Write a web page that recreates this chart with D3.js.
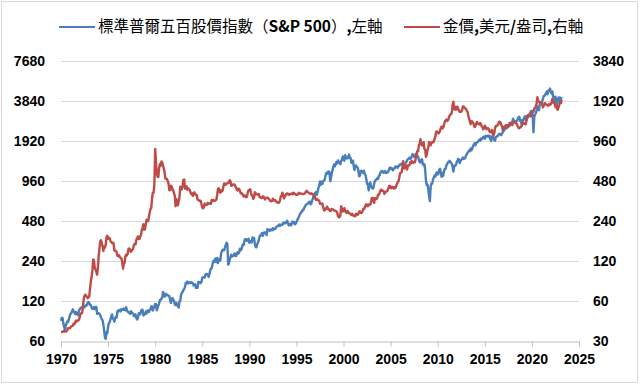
<!DOCTYPE html>
<html><head><meta charset="utf-8">
<script src="https://cdn.jsdelivr.net/npm/d3@7"></script>
<style>html,body{margin:0;padding:0;background:#fff;}svg{display:block;}</style>
</head><body>
<svg id="c" width="640" height="386"></svg>
<script>
// Monthly data starting Jan 1970
const startYear = 1970;
const spx = [
85.0,89.5,89.6,81.5,76.6,72.7,78.0,81.5,84.3,83.3,87.2,92.2,
95.9,97.0,100.3,103.9,99.6,99.7,95.6,99.0,98.3,94.2,93.9,102.1,
103.9,106.6,107.2,107.7,109.5,107.1,107.4,111.1,110.6,111.6,116.7,118.1,
116.0,111.7,111.5,106.9,104.9,104.3,108.2,104.3,108.4,108.3,96.0,97.6,
96.6,96.2,94.0,90.3,87.3,86.0,79.3,72.2,63.5,62.3,70.0,68.6,
77.0,81.6,83.4,87.3,91.2,95.2,88.8,86.9,83.9,89.0,91.2,90.2,
100.9,99.7,102.8,101.6,100.2,104.3,103.4,102.9,105.2,102.9,102.1,107.5,
102.0,99.8,98.4,98.4,96.1,100.5,98.9,96.8,96.5,92.3,94.8,95.1,
89.3,87.0,89.2,96.8,97.2,95.5,100.7,103.3,102.5,93.2,94.7,96.1,
99.9,96.3,101.6,101.8,99.1,102.9,103.8,109.3,109.3,101.8,106.2,107.9,
114.2,113.7,102.1,106.3,111.2,114.2,121.7,122.4,125.5,127.5,140.5,135.8,
129.6,131.3,136.0,132.8,132.6,131.2,130.9,122.8,116.2,121.9,126.4,122.6,
120.4,113.1,112.0,116.4,111.9,109.6,107.1,119.5,120.4,133.7,138.5,140.6,
145.3,148.1,153.0,164.4,162.4,168.1,162.6,164.4,166.1,163.6,166.4,164.9,
163.4,157.1,159.2,160.1,150.6,153.2,150.7,166.7,166.1,166.1,163.6,167.2,
179.6,181.2,180.7,179.8,189.6,191.9,190.9,188.6,182.1,189.8,202.2,211.3,
211.8,226.9,238.9,235.5,247.4,250.8,236.1,252.9,231.3,244.0,249.2,242.2,
274.1,284.2,291.7,288.4,290.1,304.0,318.7,329.8,321.8,225.0,230.3,247.1,
257.1,267.8,258.9,261.3,262.2,273.5,272.0,261.5,271.9,279.0,273.7,277.7,
297.5,288.9,294.9,309.6,320.5,318.0,346.1,351.5,349.2,340.4,346.0,353.4,
329.1,331.9,339.9,330.8,361.2,358.0,356.2,322.6,306.1,304.0,322.2,330.2,
343.9,367.1,375.2,375.3,389.8,371.2,387.8,395.4,387.9,392.5,375.2,417.1,
408.8,412.7,403.7,415.0,415.4,408.1,424.2,414.0,417.8,418.7,431.4,435.7,
438.8,443.4,451.7,440.2,450.2,450.5,448.1,463.6,458.9,467.8,461.8,466.5,
481.6,467.1,445.8,450.9,456.5,444.3,458.3,475.5,462.7,472.4,453.7,459.3,
470.4,487.4,500.7,514.7,533.4,544.8,562.1,561.9,584.4,581.5,605.4,615.9,
636.0,640.4,645.5,654.2,669.1,670.6,640.0,652.0,687.3,705.3,757.0,740.7,
786.2,790.8,757.1,801.3,848.3,885.1,954.3,899.5,947.3,914.6,955.4,970.4,
980.3,1049.3,1101.8,1111.8,1090.8,1133.8,1120.7,957.3,1017.0,1098.7,1163.6,1229.2,
1279.6,1238.3,1286.4,1335.2,1301.8,1372.7,1328.7,1320.4,1282.7,1362.9,1388.9,1469.3,
1394.5,1366.4,1498.6,1452.4,1420.6,1454.6,1430.8,1517.7,1436.5,1429.4,1315.0,1320.3,
1366.0,1239.9,1160.3,1249.5,1255.8,1224.4,1211.2,1133.6,1040.9,1059.8,1139.5,1148.1,
1130.2,1106.7,1147.4,1076.9,1067.1,989.8,911.6,916.1,815.3,885.8,936.3,879.8,
855.7,841.2,848.2,916.9,963.6,974.5,990.3,1008.0,996.0,1050.7,1058.2,1111.9,
1131.1,1144.9,1126.2,1107.3,1120.7,1140.8,1101.7,1104.2,1114.6,1130.2,1173.8,1211.9,
1181.3,1203.6,1180.6,1156.9,1191.5,1191.3,1234.2,1220.3,1228.8,1207.0,1249.5,1248.3,
1280.1,1280.7,1294.8,1310.6,1270.1,1270.2,1276.7,1303.8,1335.9,1377.9,1400.6,1418.3,
1438.2,1406.8,1420.9,1482.4,1530.6,1503.4,1455.3,1474.0,1526.8,1549.4,1481.1,1468.4,
1378.6,1330.6,1322.7,1385.6,1400.4,1280.0,1267.4,1282.8,1166.4,968.8,896.2,903.3,
825.9,735.1,677.0,872.8,919.1,919.3,987.5,1020.6,1057.1,1036.2,1095.6,1115.1,
1073.9,1104.5,1169.4,1186.7,1089.4,1030.7,1101.6,1049.3,1141.2,1183.3,1180.6,1257.6,
1286.1,1327.2,1325.8,1363.6,1345.2,1320.6,1292.3,1218.9,1131.4,1253.3,1247.0,1257.6,
1312.4,1365.7,1408.5,1397.9,1310.3,1362.2,1379.3,1406.6,1440.7,1412.2,1416.2,1426.2,
1498.1,1514.7,1569.2,1597.6,1630.7,1606.3,1685.7,1633.0,1681.6,1756.5,1805.8,1848.4,
1782.6,1859.5,1872.3,1884.0,1923.6,1960.2,1930.7,2003.4,1972.3,2018.1,2067.6,2058.9,
1995.0,2104.5,2067.9,2085.5,2107.4,2063.1,2103.8,1972.2,1920.0,2079.4,2080.4,2043.9,
1940.2,1932.2,2059.7,2065.3,2097.0,2098.9,2173.6,2171.0,2168.3,2126.2,2198.8,2238.8,
2278.9,2363.6,2362.7,2384.2,2411.8,2423.4,2470.3,2471.7,2519.4,2575.3,2647.6,2673.6,
2823.8,2713.8,2640.9,2648.1,2705.3,2718.4,2816.3,2901.5,2914.0,2711.7,2760.2,2506.9,
2704.1,2784.5,2834.4,2945.8,2752.1,2941.8,2980.4,2926.5,2976.7,3037.6,3141.0,3230.8,
3225.5,2954.2,2237.0,2912.4,3044.3,3100.3,3271.1,3500.3,3363.0,3270.0,3621.6,3756.1,
3714.2,3811.2,3972.9,4181.2,4204.1,4297.5,4395.3,4522.7,4307.5,4605.4,4567.0,4766.2,
4515.6,4373.9,4530.4,4131.9,4132.2,3785.4,4130.3,3955.0,3585.6,3872.0,4080.1,3839.5,
4076.6,3970.2,4109.3
];
const gold = [
34.9,35.0,35.1,35.6,35.4,35.3,35.3,35.4,36.2,37.5,37.4,37.4,
37.9,38.7,38.9,39.0,40.5,40.1,41.0,42.7,42.0,42.5,42.9,43.5,
45.8,48.3,48.3,49.0,54.6,62.1,65.7,67.0,65.5,64.9,62.9,63.9,
65.1,74.2,84.4,90.5,102.0,123.3,120.2,106.8,103.0,100.1,94.8,106.7,
129.2,150.2,168.4,172.2,163.3,154.1,142.4,154.6,151.8,158.8,181.7,186.0,
176.3,179.6,178.2,170.0,167.0,164.2,165.2,163.1,144.1,142.8,142.8,139.3,
131.0,130.6,132.7,127.9,126.8,125.4,117.7,105.0,114.2,116.0,130.3,133.9,
132.3,136.3,148.2,149.2,146.7,140.8,143.4,144.9,149.5,158.8,162.1,160.5,
173.2,178.2,183.7,175.5,176.3,183.9,188.7,206.5,212.5,227.3,206.1,207.8,
227.3,245.7,242.1,239.2,257.6,279.1,294.7,300.8,355.1,391.7,392.5,455.1,
835.0,665.3,553.6,517.4,513.8,600.7,644.3,626.5,674.0,661.2,623.5,594.9,
557.6,500.4,499.8,495.8,479.7,460.8,409.3,410.7,443.1,437.8,413.4,410.1,
384.1,374.2,310.0,350.5,334.2,315.0,339.1,364.0,435.6,422.2,415.1,444.3,
490.0,491.8,419.7,432.8,437.5,413.0,422.7,416.5,411.6,393.6,381.9,388.3,
370.9,386.2,394.2,381.4,377.5,377.6,347.4,347.7,341.1,340.2,341.2,320.2,
302.8,299.2,304.0,324.9,316.6,316.8,317.3,329.1,323.4,326.0,325.3,322.5,
345.4,338.9,345.7,340.4,342.5,342.6,348.7,376.6,418.5,423.4,398.1,391.9,
408.3,401.1,408.9,438.3,460.2,449.6,450.4,460.3,460.0,465.7,467.2,486.3,
476.6,442.1,443.6,451.7,451.5,451.9,437.4,431.6,413.4,406.7,419.6,418.7,
404.3,387.8,390.2,384.3,371.1,367.6,374.5,365.5,362.4,366.6,394.1,409.5,
410.1,416.8,393.1,374.3,369.2,352.3,362.5,395.0,389.3,380.7,381.0,378.2,
383.6,363.8,363.3,358.4,357.4,366.7,367.7,356.3,348.7,358.7,359.8,361.1,
354.5,353.9,344.3,338.6,337.2,340.8,353.1,342.9,345.4,344.4,335.0,334.7,
329.0,329.4,330.1,342.2,367.2,371.9,392.0,379.8,355.3,364.2,373.2,383.7,
387.0,382.0,384.0,377.3,381.4,385.6,385.5,380.4,391.6,389.8,384.4,379.3,
378.6,376.5,382.1,391.0,385.3,387.6,386.2,383.7,383.1,383.1,385.5,387.4,
399.5,404.8,396.3,392.9,391.8,385.3,383.5,387.5,383.1,381.1,377.9,369.2,
355.0,346.6,351.8,344.5,343.8,340.8,324.1,324.0,322.8,324.9,306.0,288.7,
289.1,297.5,295.9,308.4,299.1,292.3,292.9,284.1,289.0,295.9,294.1,291.7,
287.1,287.3,286.0,282.6,276.4,261.3,256.1,256.7,264.7,310.7,293.2,283.1,
284.6,300.0,286.4,280.0,275.2,285.7,281.6,274.5,273.7,270.0,266.0,272.0,
265.5,261.9,263.0,260.5,272.4,270.2,267.5,272.4,283.4,283.1,276.2,275.9,
281.7,295.5,294.0,302.7,314.5,321.2,313.3,310.3,319.2,316.6,319.1,333.4,
356.9,359.0,340.6,328.2,355.7,356.4,351.0,359.8,378.9,378.9,389.9,407.6,
414.0,405.3,406.7,403.3,383.8,392.4,398.1,400.5,405.3,420.5,439.4,442.1,
424.0,423.4,434.2,429.2,421.9,430.7,424.5,437.9,456.1,469.9,476.7,509.8,
549.9,555.0,557.1,610.6,676.5,596.2,633.8,632.6,598.2,585.8,627.8,629.8,
631.2,664.8,654.9,679.4,666.9,655.5,665.3,665.4,712.7,754.6,806.3,803.2,
889.6,922.3,990.0,909.7,888.7,889.5,939.8,839.0,829.9,730.0,760.9,816.1,
858.7,943.2,924.3,890.2,928.6,945.7,934.2,949.4,996.6,1043.2,1127.0,1134.7,
1118.0,1095.4,1113.3,1148.7,1205.4,1232.9,1193.0,1215.8,1271.0,1342.0,1369.9,1390.6,
1360.5,1374.7,1423.3,1480.9,1512.6,1529.4,1572.8,1800.0,1895.0,1665.2,1739.0,1652.2,
1656.1,1742.6,1673.8,1649.7,1591.2,1598.8,1594.3,1630.3,1744.8,1746.6,1721.6,1684.8,
1671.9,1627.6,1593.1,1487.9,1414.0,1343.4,1285.5,1351.7,1348.6,1316.6,1275.9,1221.5,
1244.3,1299.6,1336.1,1298.5,1288.7,1279.1,1310.6,1295.1,1236.6,1222.5,1175.3,1200.6,
1250.8,1227.1,1178.6,1198.9,1198.6,1181.5,1128.3,1117.9,1124.8,1159.3,1086.4,1060.0,
1097.9,1199.5,1245.1,1242.3,1261.0,1276.4,1336.7,1340.2,1326.6,1266.6,1238.4,1157.4,
1192.1,1234.2,1231.1,1266.9,1246.0,1260.3,1236.8,1283.0,1314.1,1279.5,1281.9,1264.5,
1331.3,1330.7,1324.7,1334.8,1303.5,1281.6,1237.7,1201.7,1198.4,1215.4,1220.7,1250.4,
1291.8,1320.1,1300.9,1285.9,1283.7,1359.0,1412.9,1500.4,1510.6,1494.8,1470.0,1479.1,
1560.7,1597.1,1591.9,1683.2,1715.9,1732.2,1846.5,2050.0,1921.9,1900.3,1866.3,1858.4,
1867.2,1808.2,1718.2,1760.0,1850.3,1834.6,1807.8,1785.3,1775.1,1776.9,1822.0,1790.0,
1816.0,1856.3,1990.0,1937.0,1848.5,1836.6,1732.7,1764.6,1680.6,1650.0,1725.1,1797.6,
1897.8,1854.6,1960.0
];
const xTicks = [1970,1975,1980,1985,1990,1995,2000,2005,2010,2015,2020,2025];
const leftTicks = [60,120,240,480,960,1920,3840,7680];
const rightTicks = [30,60,120,240,480,960,1920,3840];
// legend names split into [text, bold?] runs
const seriesNames = [
  [["標準普爾五百股價指數（",0],["S&P 500",1],["）",0],[",",1],["左軸",0]],
  [["金價",0],[",",1],["美元",0],["/",1],["盎司",0],[",",1],["右軸",0]]
];
const colors = ["#4A7EBB","#BE4B48"];

const svg = d3.select("#c");
const W = 640, H = 386;
const L = 61, R = 579, T = 61, B = 341;

svg.append("rect").attr("x",1.5).attr("y",1.5).attr("width",W-4).attr("height",H-5)
  .attr("fill","#fff").attr("stroke","#d9d9d9").attr("stroke-width",1);

const x = d3.scaleLinear().domain([1970,2025]).range([L,R]);
const yL = d3.scaleLog().base(2).domain([60,7680]).range([B,T]);
const yR = d3.scaleLog().base(2).domain([30,3840]).range([B,T]);

// gridlines
svg.append("g").selectAll("line").data(leftTicks.slice(1)).join("line")
  .attr("x1",L).attr("x2",R)
  .attr("y1",d=>Math.round(yL(d))+0.5).attr("y2",d=>Math.round(yL(d))+0.5)
  .attr("stroke","#d9d9d9").attr("stroke-width",1);

const tickFont = sel => sel.attr("font-family","'Liberation Sans', Arial, sans-serif")
  .attr("font-weight","bold").attr("font-size","14px").attr("fill","#000");

// x axis
const xa = svg.append("g").attr("transform",`translate(0,${B+0.5})`)
  .call(d3.axisBottom(x).tickValues(xTicks).tickFormat(d3.format("d")).tickSize(5).tickPadding(8));
xa.select(".domain").attr("stroke","#bfbfbf");
xa.selectAll(".tick line").attr("stroke","#bfbfbf");
xa.selectAll("text").call(tickFont);

// left axis
const la = svg.append("g").attr("transform",`translate(${L},0)`)
  .call(d3.axisLeft(yL).tickValues(leftTicks).tickFormat(d3.format("d")).tickSize(0).tickPadding(16));
la.select(".domain").remove();
la.selectAll("text").call(tickFont);

// right axis
const ra = svg.append("g").attr("transform",`translate(${R},0)`)
  .call(d3.axisRight(yR).tickValues(rightTicks).tickFormat(d3.format("d")).tickSize(0).tickPadding(14));
ra.select(".domain").remove();
ra.selectAll("text").call(tickFont);

const t = i => startYear + i/12;
const lineL = d3.line().x((d,i)=>x(t(i))).y(d=>yL(d));
const lineR = d3.line().x((d,i)=>x(t(i))).y(d=>yR(d));

svg.append("path").attr("d",lineL(spx)).attr("fill","none")
  .attr("stroke",colors[0]).attr("stroke-width",2.4).attr("stroke-linejoin","round");
svg.append("path").attr("d",lineR(gold)).attr("fill","none")
  .attr("stroke",colors[1]).attr("stroke-width",2.4).attr("stroke-linejoin","round");

// legend
const lg = svg.append("g");
const legItems = [{x:59, runs:seriesNames[0], c:colors[0]},{x:404, runs:seriesNames[1], c:colors[1]}];
legItems.forEach(it=>{
  lg.append("line").attr("x1",it.x).attr("x2",it.x+36).attr("y1",27).attr("y2",27)
    .attr("stroke",it.c).attr("stroke-width",2.2);
  const tx = lg.append("text").attr("x",it.x+39).attr("y",31.5)
    .attr("font-family","'Noto Sans CJK TC', sans-serif").attr("font-size","15.5px").attr("fill","#000");
  it.runs.forEach(r=>{
    tx.append("tspan").text(r[0]).attr("font-weight", r[1] ? "bold" : "normal");
  });
});
</script>
</body></html>
